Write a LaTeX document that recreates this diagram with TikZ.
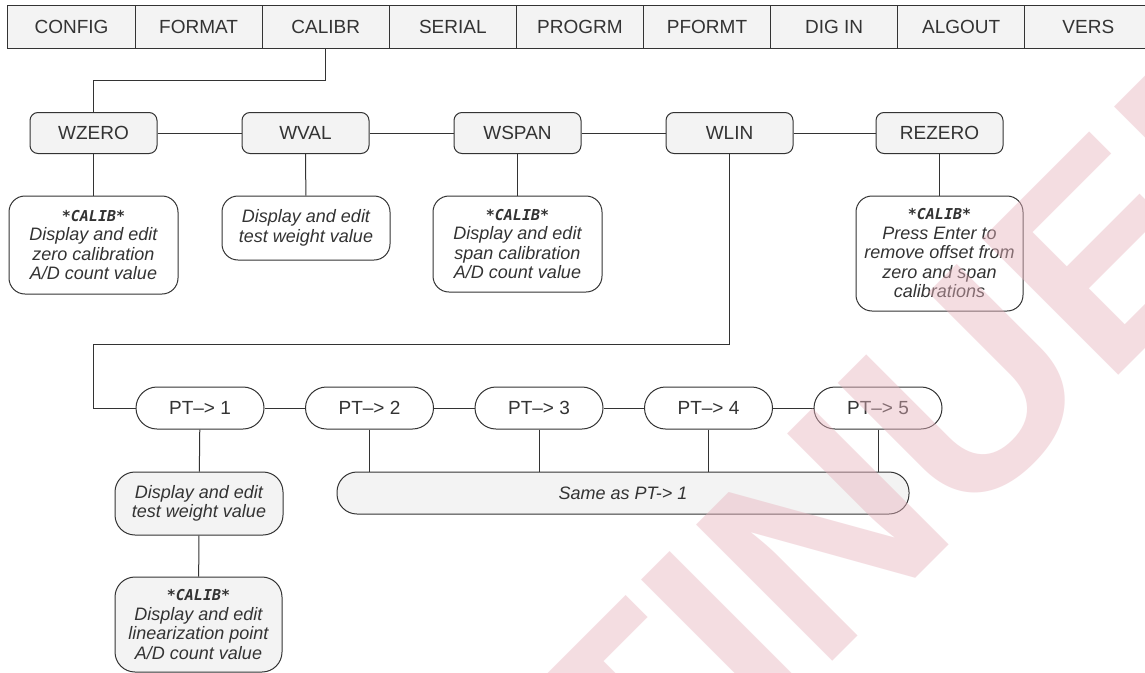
\documentclass[tikz,border=0pt]{standalone}
\usepackage{fontspec}
\setmainfont{Liberation Sans}
\newfontfamily\lcdfont{DejaVu Sans Mono}
\newfontfamily\stampfont{Liberation Sans}
\usetikzlibrary{calc}

\definecolor{ink}{HTML}{333333}
\definecolor{panel}{HTML}{F3F3F3}
\definecolor{stampred}{HTML}{E8B4BE}

\newcommand{\calibtag}{{\lcdfont\bfseries\fontsize{15}{19.5}\selectfont *CALIB*}}

\begin{document}
\begin{tikzpicture}[x=1pt, y=-1pt, line width=1pt,
  tabcell/.style={draw=ink, fill=panel, minimum width=127.1, minimum height=43,
    inner sep=0, text=ink, font=\fontsize{19}{20}\selectfont},
  menubox/.style={draw=ink, fill=panel, rounded corners=8pt, minimum width=127,
    minimum height=41, inner sep=0, text=ink, font=\fontsize{19}{20}\selectfont},
  descbox/.style={draw=ink, fill=white, rounded corners=16pt, inner sep=0,
    align=center, text=ink, font=\fontsize{18}{19.5}\selectfont\itshape},
  pill/.style={draw=ink, fill=white, rounded corners=21pt, minimum width=128,
    minimum height=42, inner sep=0, text=ink, font=\fontsize{19}{20}\selectfont},
  link/.style={draw=ink}
]
\useasboundingbox (0,0) rectangle (1145,672);
\fill[white] (0,0) rectangle (1145,672);
\clip (0,0) rectangle (1145,672);

% menu tabs along the top
\foreach \lbl [count=\i] in {CONFIG,FORMAT,CALIBR,SERIAL,PROGRM,PFORMT,DIG IN,ALGOUT,VERS}
  \node[tabcell] (t\i) at ({71.5+127.1*(\i-1)},26.5) {\lbl};

% calibration menu level
\node[menubox] (wzero)  at (93.5,133)  {WZERO};
\node[menubox] (wval)   at (305.5,133) {WVAL};
\node[menubox] (wspan)  at (517.5,133) {WSPAN};
\node[menubox] (wlin)   at (729.5,133) {WLIN};
\node[menubox] (rezero) at (939.5,133) {REZERO};

\coordinate (drop) at (0,80);
\draw[link] (t3.south) -- (t3.south |- drop) -| (wzero.north);
\draw[link] (wzero.east) -- (wval.west);
\draw[link] (wval.east) -- (wspan.west);
\draw[link] (wspan.east) -- (wlin.west);
\draw[link] (wlin.east) -- (rezero.west);

% parameter descriptions
\node[descbox, minimum width=169, minimum height=98] (dzero) at (93.5,245)
  {\calibtag\\Display and edit\\zero calibration\\A/D count value};
\node[descbox, minimum width=168, minimum height=64] (dval) at (306,228)
  {Display and edit\\test weight value};
\node[descbox, minimum width=169, minimum height=96] (dspan) at (517.5,244)
  {\calibtag\\Display and edit\\span calibration\\A/D count value};
\node[descbox, minimum width=167, minimum height=115] (drez) at (939.5,253.5)
  {\calibtag\\Press Enter to\\remove offset from\\zero and span\\calibrations};

\draw[link] (wzero) -- (dzero);
\draw[link] (wval) -- (dval);
\draw[link] (wspan) -- (dspan);
\draw[link] (rezero) -- (drez);

% linearization points
\node[pill] (pt1) at (200,408)   {PT–> 1};
\node[pill] (pt2) at (369.5,408) {PT–> 2};
\node[pill] (pt3) at (539,408)   {PT–> 3};
\node[pill] (pt4) at (708.5,408) {PT–> 4};
\node[pill] (pt5) at (878,408)   {PT–> 5};

\coordinate (wlinturn) at (93,344);
\draw[link] (wlin.south) |- (wlinturn) |- (pt1.west);
\draw[link] (pt1.east) -- (pt2.west);
\draw[link] (pt2.east) -- (pt3.west);
\draw[link] (pt3.east) -- (pt4.west);
\draw[link] (pt4.east) -- (pt5.west);

\node[descbox, fill=panel, rounded corners=20pt, minimum width=168, minimum height=63]
  (ptdesc) at (199,503.5) {Display and edit\\test weight value};
\node[descbox, fill=panel, rounded corners=20pt, minimum width=572, minimum height=42]
  (same) at (623,493) {Same as PT-> 1};
\node[descbox, fill=panel, rounded corners=20pt, minimum width=167, minimum height=95]
  (ptcal) at (198.5,624.5)
  {\calibtag\\Display and edit\\linearization point\\A/D count value};

\draw[link] (pt1) -- (ptdesc);
\draw[link] (ptdesc) -- (ptcal);
\foreach \p in {pt2,pt3,pt4,pt5}
  \draw[link] (\p.south) -- (\p.south |- same.north);

% status stamp across the sheet
\node[rotate=45, anchor=base west, inner sep=0, text=stampred, opacity=.45,
  font=\stampfont\bfseries\fontsize{280}{280}\selectfont] (stamp) at (-127,1621) {DISCONTINUED};
\end{tikzpicture}
\end{document}
